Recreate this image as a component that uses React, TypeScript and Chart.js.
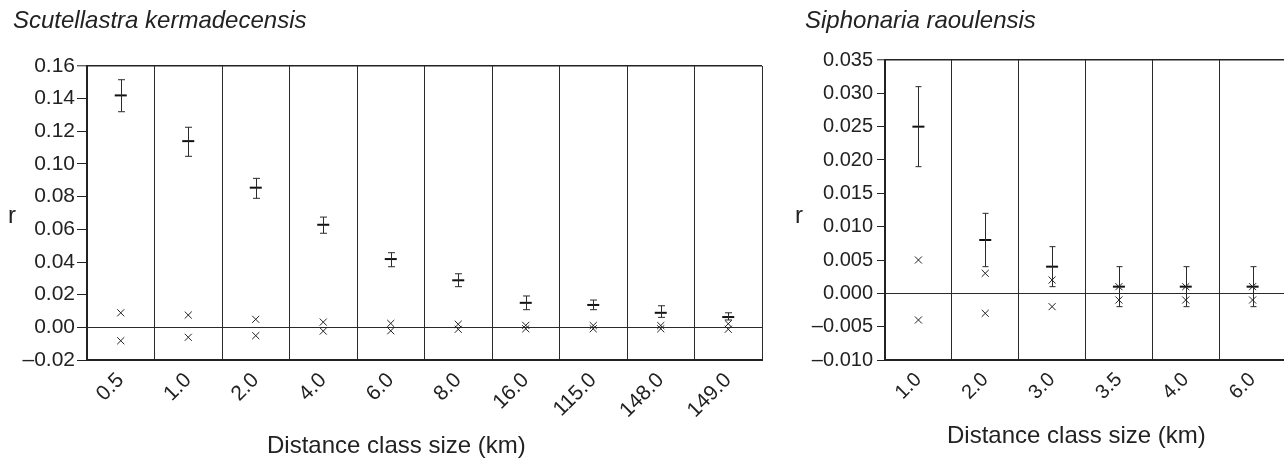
import React, { useEffect, useRef } from 'react';
import { Chart, registerables } from 'chart.js';

Chart.register(...registerables);

// ---- Panel A: Scutellastra kermadecensis ----
const labelsA = ['0.5', '1.0', '2.0', '4.0', '6.0', '8.0', '16.0', '115.0', '148.0', '149.0'];
const meanA = [0.142, 0.114, 0.0855, 0.0628, 0.0418, 0.0288, 0.015, 0.0137, 0.0089, 0.0063];
const errUpperA = [0.1516, 0.1225, 0.0912, 0.0675, 0.0457, 0.0328, 0.0192, 0.0167, 0.0132, 0.0089];
const errLowerA = [0.132, 0.1047, 0.079, 0.0576, 0.0371, 0.0249, 0.0108, 0.0108, 0.0061, 0.0045];
const nullUpperA = [0.0089, 0.0075, 0.0049, 0.0032, 0.0024, 0.0019, 0.0012, 0.0011, 0.0011, 0.0022];
const nullLowerA = [-0.0082, -0.0061, -0.0051, -0.0023, -0.0021, -0.0012, -0.0009, -0.0009, -0.0009, -0.0012];

// ---- Panel B: Siphonaria raoulensis ----
const labelsB = ['1.0', '2.0', '3.0', '3.5', '4.0', '6.0'];
const meanB = [0.025, 0.008, 0.004, 0.001, 0.001, 0.001];
const errUpperB = [0.031, 0.012, 0.007, 0.004, 0.004, 0.004];
const errLowerB = [0.019, 0.004, 0.001, -0.002, -0.002, -0.002];
const nullUpperB = [0.005, 0.003, 0.002, 0.001, 0.001, 0.001];
const nullLowerB = [-0.004, -0.003, -0.002, -0.001, -0.001, -0.001];

const FONT = "'Liberation Sans', Arial, Helvetica, sans-serif";
const INK = '#222';

function makeErrorPlugin(upper: number[], lower: number[], cap: number) {
  return {
    id: 'errorBars',
    afterDatasetsDraw(chart: any) {
      const { ctx } = chart;
      const x = chart.scales.x;
      const y = chart.scales.y;
      ctx.save();
      ctx.strokeStyle = '#2a2a2a';
      ctx.lineWidth = 1;
      upper.forEach((u, i) => {
        const px = Math.round(x.getPixelForValue(i)) + 0.5;
        const yt = y.getPixelForValue(u);
        const yb = y.getPixelForValue(lower[i]);
        ctx.beginPath();
        ctx.moveTo(px, yt);
        ctx.lineTo(px, yb);
        ctx.moveTo(px - cap, yt);
        ctx.lineTo(px + cap, yt);
        ctx.moveTo(px - cap, yb);
        ctx.lineTo(px + cap, yb);
        ctx.stroke();
      });
      ctx.restore();
    },
  };
}

interface PanelSpec {
  labels: string[];
  mean: number[];
  errUpper: number[];
  errLower: number[];
  nullUpper: number[];
  nullLower: number[];
  min: number;
  max: number;
  step: number;
  decimals: number;
  width: number;
  height: number;
  left: number;
  padTop: number;
  padRight: number;
  yWidth: number;
  xHeight: number;
  fontSize: number;
  tickLen: number;
  tickPad: number;
  cap: number;
}

function Panel({ spec }: { spec: PanelSpec }) {
  const ref = useRef<HTMLCanvasElement | null>(null);
  useEffect(() => {
    if (!ref.current) return;
    const n = spec.labels.length;
    const near = (a: number, b: number) => Math.abs(a - b) < 1e-9;
    const chart = new Chart(ref.current, {
      type: 'line',
      data: {
        labels: spec.labels,
        datasets: [
          {
            data: spec.mean,
            showLine: false,
            pointStyle: 'line',
            pointRadius: 6,
            pointBorderWidth: 2,
            pointBorderColor: '#111',
            borderColor: '#111',
          },
          {
            data: spec.nullUpper,
            showLine: false,
            pointStyle: 'crossRot',
            pointRadius: 5,
            pointBorderWidth: 1,
            pointBorderColor: INK,
            borderColor: INK,
          },
          {
            data: spec.nullLower,
            showLine: false,
            pointStyle: 'crossRot',
            pointRadius: 5,
            pointBorderWidth: 1,
            pointBorderColor: INK,
            borderColor: INK,
          },
        ],
      },
      options: {
        responsive: false,
        animation: false,
        events: [],
        layout: { padding: { top: spec.padTop, right: spec.padRight, left: 0, bottom: 0 } },
        plugins: {
          legend: { display: false },
          tooltip: { enabled: false },
        },
        scales: {
          x: {
            type: 'category',
            offset: true,
            grid: {
              offset: true,
              drawTicks: false,
              color: '#2a2a2a',
              lineWidth: (c: any) => (c.index === n ? 2 : 1),
            },
            border: { display: true, color: INK, width: 2 },
            ticks: {
              autoSkip: false,
              maxRotation: 45,
              minRotation: 45,
              padding: 8,
              color: INK,
              font: { family: FONT, size: spec.fontSize },
            },
            afterFit: (s: any) => {
              s.height = spec.xHeight;
            },
          },
          y: {
            min: spec.min,
            max: spec.max,
            ticks: {
              stepSize: spec.step,
              padding: spec.tickPad,
              color: INK,
              font: { family: FONT, size: spec.fontSize },
              callback: (v: any) => {
                const num = Number(v);
                const s = Math.abs(num).toFixed(spec.decimals);
                return num < -1e-12 ? '\u2013' + s : s;
              },
            },
            grid: {
              color: (c: any) => {
                const v = c.tick ? c.tick.value : NaN;
                if (near(v, 0)) return '#2a2a2a';
                if (near(v, spec.max)) return INK;
                return 'rgba(0,0,0,0)';
              },
              lineWidth: (c: any) => {
                const v = c.tick ? c.tick.value : NaN;
                if (near(v, spec.max)) return 1.6;
                return 1;
              },
              tickLength: spec.tickLen,
              tickColor: INK,
              tickWidth: 1,
            },
            border: { display: true, color: INK, width: 2 },
            afterFit: (s: any) => {
              s.width = spec.yWidth;
            },
          },
        },
      },
      plugins: [makeErrorPlugin(spec.errUpper, spec.errLower, spec.cap)],
    } as any);
    return () => chart.destroy();
  }, [spec]);
  return (
    <canvas
      ref={ref}
      width={spec.width}
      height={spec.height}
      style={{ position: 'absolute', left: spec.left, top: 0, width: spec.width, height: spec.height }}
    />
  );
}

const specA: PanelSpec = {
  labels: labelsA,
  mean: meanA,
  errUpper: errUpperA,
  errLower: errLowerA,
  nullUpper: nullUpperA,
  nullLower: nullLowerA,
  min: -0.02,
  max: 0.16,
  step: 0.02,
  decimals: 2,
  width: 800,
  height: 460,
  left: 0,
  padTop: 66,
  padRight: 38,
  yWidth: 87,
  xHeight: 100,
  fontSize: 21,
  tickLen: 10,
  tickPad: 2,
  cap: 3.5,
};

const specB: PanelSpec = {
  labels: labelsB,
  mean: meanB,
  errUpper: errUpperB,
  errLower: errLowerB,
  nullUpper: nullUpperB,
  nullLower: nullLowerB,
  min: -0.01,
  max: 0.035,
  step: 0.005,
  decimals: 3,
  width: 504,
  height: 460,
  left: 790,
  padTop: 60,
  padRight: 4,
  yWidth: 95,
  xHeight: 100,
  fontSize: 20,
  tickLen: 8,
  tickPad: 4,
  cap: 3,
};

const textBase: React.CSSProperties = {
  position: 'absolute',
  fontFamily: FONT,
  color: INK,
  fontSize: 24,
  lineHeight: '24px',
  whiteSpace: 'nowrap',
};

export default function App() {
  return (
    <div
      style={{
        position: 'fixed',
        left: 0,
        top: 0,
        width: 1284,
        height: 460,
        overflow: 'hidden',
        background: '#fff',
      }}
    >
      <Panel spec={specA} />
      <Panel spec={specB} />
      <div style={{ ...textBase, left: 13, top: 8, fontStyle: 'italic' }}>Scutellastra kermadecensis</div>
      <div style={{ ...textBase, left: 805, top: 8, fontStyle: 'italic' }}>Siphonaria raoulensis</div>
      <div style={{ ...textBase, left: 8, top: 203 }}>r</div>
      <div style={{ ...textBase, left: 795, top: 203 }}>r</div>
      <div style={{ ...textBase, left: 267, top: 433 }}>Distance class size (km)</div>
      <div style={{ ...textBase, left: 947, top: 423 }}>Distance class size (km)</div>
    </div>
  );
}
